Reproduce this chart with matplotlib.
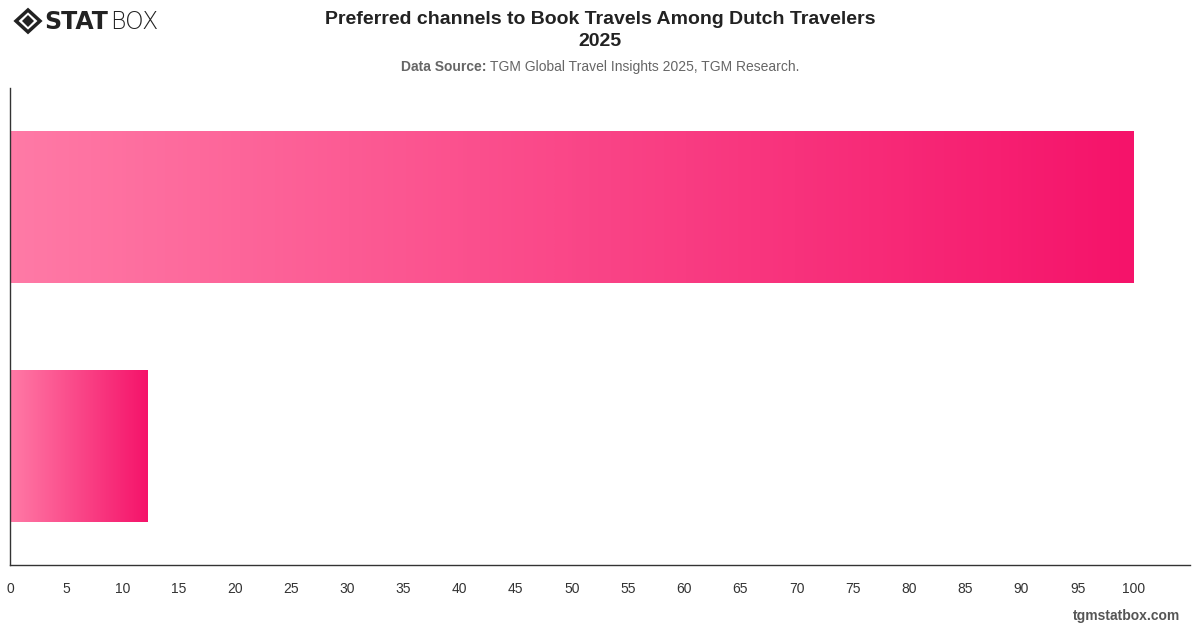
import matplotlib.pyplot as plt
import numpy as np
from matplotlib.colors import LinearSegmentedColormap
from matplotlib.patches import Polygon

plt.rcParams['font.family'] = ['Liberation Sans', 'DejaVu Sans']

# Data
channels = ['Online', 'Offline']
shares = [100, 12.2]
x_ticks = list(range(0, 101, 5))

fig = plt.figure(figsize=(12, 6.28), dpi=100)
ax = fig.add_axes([10 / 1200, 1 - 565 / 628, 1180 / 1200, 477 / 628])

y = np.arange(len(channels))
bars = ax.barh(y, shares, height=0.637, color='none', edgecolor='none')

cmap = LinearSegmentedColormap.from_list('pink', ['#ff7aa6', '#f5136a'])
grad = np.linspace(0, 1, 256).reshape(1, -1)
for b in bars:
    x0, y0 = b.get_x(), b.get_y()
    w, h = b.get_width(), b.get_height()
    im = ax.imshow(grad, cmap=cmap, aspect='auto', extent=[x0, x0 + w, y0, y0 + h],
                   interpolation='bicubic', zorder=2)
    im.set_clip_path(b)

ax.set_xlim(0, 105)
ax.set_ylim(len(channels) - 0.5, -0.5)
ax.set_xticks(x_ticks)
ax.set_xticklabels([str(t) for t in x_ticks], fontsize=10, color='#333333')
ax.tick_params(axis='x', length=0, pad=12)
ax.set_yticks(y)
ax.set_yticklabels([])
ax.tick_params(axis='y', length=0)
for s in ['top', 'right']:
    ax.spines[s].set_visible(False)
for s in ['left', 'bottom']:
    ax.spines[s].set_color('#333333')
    ax.spines[s].set_linewidth(1)

# Titles
fig.text(0.5, 1 - 18 / 628, 'Preferred channels to Book Travels Among Dutch Travelers',
         ha='center', va='center_baseline', fontsize=14, fontweight='bold', color='#222222')
fig.text(0.5, 1 - 40 / 628, '2025', ha='center', va='center_baseline', fontsize=14,
         fontweight='bold', color='#222222')

renderer = fig.canvas.get_renderer()
t1 = fig.text(0, 1 - 67 / 628, 'Data Source:', ha='left', va='center',
              fontsize=10, fontweight='bold', color='#666666')
t2 = fig.text(0, 1 - 67 / 628, 'TGM Global Travel Insights 2025, TGM Research.',
              ha='left', va='center', fontsize=10, color='#666666')
w1 = t1.get_window_extent(renderer).width
w2 = t2.get_window_extent(renderer).width
gap = 4
start = (1200 - (w1 + gap + w2)) / 2
t1.set_x(start / 1200)
t2.set_x((start + w1 + gap) / 1200)

# Footer
fig.text(1180 / 1200, 1 - 616 / 628, 'tgmstatbox.com', ha='right', va='center',
         fontsize=10, fontweight='bold', color='#555555')

# Logo
lax = fig.add_axes([0, 1 - 45 / 628, 200 / 1200, 45 / 628])
lax.set_xlim(0, 200)
lax.set_ylim(45, 0)
lax.axis('off')
lax.add_patch(Polygon([[16, 21], [28, 10], [40, 21], [28, 32]], closed=True,
                      facecolor='none', edgecolor='#222222', linewidth=2.5))
lax.add_patch(Polygon([[22, 21], [28, 15], [34, 21], [28, 27]], closed=True,
                      facecolor='#222222', edgecolor='none'))
lax.text(44, 22, 'STAT', ha='left', va='center', fontsize=17, fontweight='heavy',
         color='#222222', family=['DejaVu Sans'])
lax.text(110, 22, 'BOX', ha='left', va='center', fontsize=17, fontweight='light',
         color='#222222', family=['DejaVu Sans'])

fig.savefig('out.png', dpi=100, facecolor='white')
